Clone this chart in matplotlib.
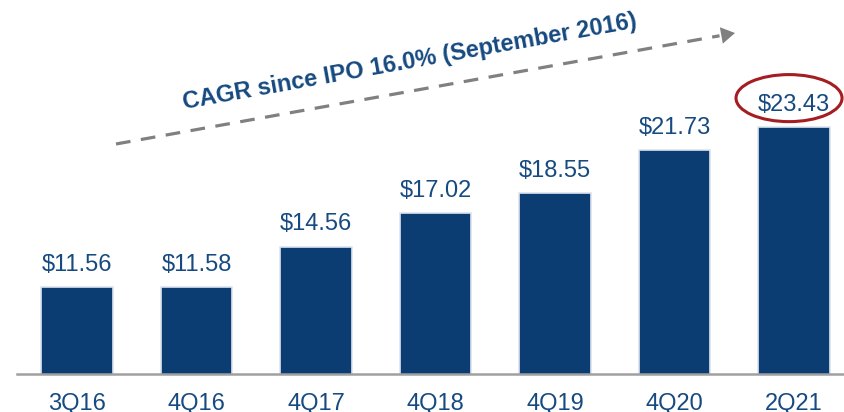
import matplotlib.pyplot as plt
from matplotlib.patches import Ellipse

quarters = ['3Q16', '4Q16', '4Q17', '4Q18', '4Q19', '4Q20', '2Q21']
values = [11.56, 11.58, 14.56, 17.02, 18.55, 21.73, 23.43]
labels = ['$11.56', '$11.58', '$14.56', '$17.02', '$18.55', '$21.73', '$23.43']
cagr_text = 'CAGR since IPO 16.0% (September 2016)'

BAR = '#0b3c72'
TEXT = '#164a80'

plt.rcParams['font.family'] = ['Liberation Sans', 'DejaVu Sans']

fig = plt.figure(figsize=(8.44, 4.12), dpi=100)
ax = fig.add_axes([17/844, 38/412, 827/844, 374/412])

x = range(len(quarters))
ax.bar(x, values, width=0.6, color=BAR, edgecolor='#dbe4ee', linewidth=1.2)

# value labels above bars
for i, (v, lab) in enumerate(zip(values, labels)):
    ax.annotate(lab, (i, v), xytext=(0, 8), textcoords='offset points',
                ha='center', va='bottom', fontsize=17, color=TEXT)

ax.set_xlim(-0.502, 6.418)
ax.set_ylim(5.1, 32.85)
ax.set_xticks(list(x))
ax.set_xticklabels(quarters, fontsize=17, color=TEXT)
ax.tick_params(axis='x', length=0, pad=14)
ax.set_yticks([])
for s in ['top', 'right', 'left']:
    ax.spines[s].set_visible(False)
ax.spines['bottom'].set_color('#a0a0a0')
ax.spines['bottom'].set_linewidth(1.8)

# red ellipse around last label
ax.add_patch(Ellipse((5.958, 25.57), 0.887, 3.49, fill=False,
                     edgecolor='#a31d22', linewidth=2.2, clip_on=False))

# dashed CAGR arrow
start = (116/844, 1 - 144/412)
end = (735/844, 1 - 33/412)
mid = (start[0] + (end[0] - start[0]) * 0.975, start[1] + (end[1] - start[1]) * 0.975)
fig.add_artist(plt.Line2D([start[0], mid[0]], [start[1], mid[1]], color='#808080',
                          lw=2.3, ls=(0, (4.6, 3.3)), transform=fig.transFigure))
ax.annotate('', xy=end, xytext=mid, xycoords='figure fraction', textcoords='figure fraction',
            arrowprops=dict(arrowstyle='-|>,head_length=1.0,head_width=0.6',
                            color='#808080', lw=0, shrinkA=0, shrinkB=0))

fig.text(410/844, 1 - 62/412, cagr_text, rotation=10.2, rotation_mode='anchor',
         ha='center', va='center', fontsize=17, fontweight='bold', color=TEXT)

fig.savefig('out.png', dpi=100)
